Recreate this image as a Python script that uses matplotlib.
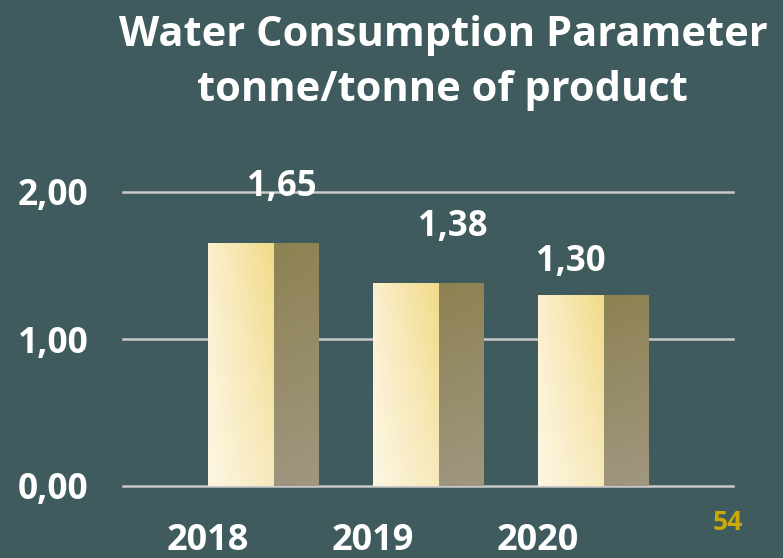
import numpy as np
import matplotlib.pyplot as plt
from matplotlib.colors import to_rgb

# данные
years = ["2018", "2019", "2020"]
values = [1.65, 1.38, 1.30]
value_labels = ["1,65", "1,38", "1,30"]
y_ticks = [0, 1, 2]
y_tick_labels = ["0,00", "1,00", "2,00"]
page_number = "54"

bg = "#3f5b5e"
front_w = 0.40   # ширина передней грани
side_w = 0.267   # ширина боковой грани
label_dx = [0.45, 0.48, 0.20]  # сдвиг подписей значений
label_dy = [0.26, 0.26, 0.10]

plt.rcParams['font.family'] = ['Open Sans', 'DejaVu Sans']


def gradient(tl, tr, bl, br, n=100):
    # билинейный градиент, строка 0 - верх
    tl, tr, bl, br = (np.array(to_rgb(c)) for c in (tl, tr, bl, br))
    u = np.linspace(0, 1, n)[None, :, None]
    v = np.linspace(0, 1, n)[:, None, None]
    top = tl * (1 - u) + tr * u
    bot = bl * (1 - u) + br * u
    return top * (1 - v) + bot * v


front_img = gradient("#fbf0cf", "#f1da86", "#fdf6e3", "#f7e9bb")
side_img = gradient("#8d8252", "#8f8456", "#9e957f", "#a09780")

fig = plt.figure(figsize=(7.83, 5.58), dpi=100, facecolor=bg)
ax = fig.add_axes([123 / 783, 72 / 558, 610 / 783, 294 / 558])
ax.set_facecolor(bg)

for s in ax.spines.values():
    s.set_visible(False)

for t in y_ticks:
    ax.axhline(t, color="#c9c9c9", lw=1.8, clip_on=False, zorder=1)

x = np.arange(len(years))
front = ax.bar(x, values, width=front_w, align="edge", color="none", zorder=2)
side = ax.bar(x + front_w, values, width=side_w, align="edge", color="none", zorder=2)

for i, v in enumerate(values):
    im = ax.imshow(front_img, aspect="auto", zorder=3, origin="upper",
                   extent=[x[i], x[i] + front_w, 0, v])
    im.set_clip_path(front[i])
    im2 = ax.imshow(side_img, aspect="auto", zorder=3, origin="upper",
                    extent=[x[i] + front_w, x[i] + front_w + side_w, 0, v])
    im2.set_clip_path(side[i])
    ax.text(x[i] + label_dx[i], v + label_dy[i], value_labels[i], ha="center", va="bottom",
            color="white", fontsize=25, fontweight="bold", clip_on=False)

ax.set_xlim(-0.515, 3.18)
ax.set_ylim(0, 2.0)

ax.set_yticks(y_ticks)
ax.set_yticklabels(y_tick_labels, color="white", fontsize=25.5, fontweight="bold")
ax.set_xticks(x)
ax.set_xticklabels(years, color="white", fontsize=26, fontweight="bold")
ax.tick_params(axis="y", length=0, pad=25)
ax.tick_params(axis="x", length=0, pad=27)

fig.text(0.566, 0.937, "Water Consumption Parameter", ha="center", va="center",
         color="white", fontsize=30, fontweight="bold")
fig.text(0.565, 0.838, "tonne/tonne of product", ha="center", va="center",
         color="white", fontsize=30, fontweight="bold")
fig.text(0.93, 0.063, page_number, ha="center", va="center",
         color="#c9aa0a", fontsize=19, fontweight="bold")

fig.savefig("out.png", dpi=100, facecolor=bg)
